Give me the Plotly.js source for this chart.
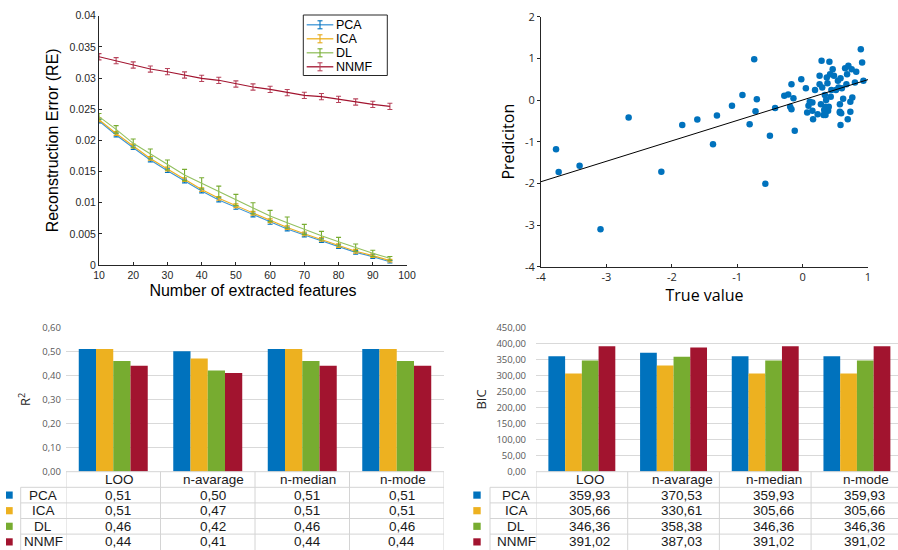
<!DOCTYPE html>
<html>
<head>
<meta charset="utf-8">
<script src="https://cdn.plot.ly/plotly-3.0.1.min.js"></script>
<style>html,body{margin:0;padding:0;background:#fff;}#chart{width:898px;height:550px;}</style>
</head>
<body>
<div id="chart"></div>
<script>
// ---------- Data: reconstruction error ----------
const features = [10,15,20,25,30,35,40,45,50,55,60,65,70,75,80,85,90,95];
const rePCA  = [0.0231,0.02086,0.01882,0.01684,0.01513,0.01348,0.01187,0.01043,0.00925,0.00802,0.00684,0.00578,0.00481,0.0039,0.00294,0.00203,0.00134,0.00053];
const reICA  = [0.0233,0.0211,0.0191,0.0171,0.0154,0.0137,0.0121,0.0107,0.0095,0.0083,0.0071,0.0060,0.0050,0.0041,0.0031,0.0022,0.0015,0.0007];
const reDL   = [0.0238,0.02176,0.01952,0.01781,0.01604,0.01444,0.0131,0.01176,0.01043,0.00909,0.00786,0.00679,0.00572,0.0047,0.00374,0.00278,0.00187,0.00107];
const reNNMF = [0.03342,0.03278,0.03209,0.03144,0.03102,0.03048,0.02995,0.02963,0.02904,0.02856,0.02818,0.02765,0.02722,0.02701,0.02658,0.02615,0.02578,0.02545];
const errPCA  = [0.0003,0.0003,0.0003,0.0003,0.0003,0.0003,0.0003,0.0003,0.0003,0.0003,0.0003,0.0003,0.0003,0.0003,0.0003,0.0003,0.0003,0.0002];
const errICA  = [0.0003,0.0003,0.0003,0.0003,0.0003,0.0003,0.0003,0.0003,0.0003,0.0003,0.0003,0.0003,0.0003,0.0003,0.0003,0.0003,0.0003,0.0002];
const errDL   = [0.0005,0.0006,0.0007,0.0008,0.0008,0.0009,0.0009,0.0009,0.0009,0.0009,0.0009,0.0009,0.0008,0.0007,0.0007,0.0006,0.0005,0.0003];
const errNNMF = [0.0005,0.0005,0.0005,0.0005,0.0005,0.0005,0.0005,0.0005,0.0005,0.0005,0.0005,0.0005,0.0005,0.0005,0.0005,0.0005,0.0005,0.0005];
const reTickVals = [0,0.005,0.01,0.015,0.02,0.025,0.03,0.035,0.04];
const reTickText = ['0','0.005','0.01','0.015','0.02','0.025','0.03','0.035','0.04'];
const featTicks = [10,20,30,40,50,60,70,80,90,100];

// ---------- Data: prediction scatter ----------
const trueVals = [-3.77,-3.73,-3.41,-3.09,-2.66,-2.16,-1.84,-1.61,-1.37,-1.31,-1.08,-0.92,-0.74,-0.70,-0.72,-0.81,-0.57,-0.50,-0.42,-0.28,-0.22,-0.17,-0.14,-0.19,-0.17,-0.12,-0.02,0.05,0.07,0.09,0.15,0.16,0.15,0.19,0.23,0.26,0.26,0.29,0.28,0.30,0.32,0.34,0.35,0.36,0.37,0.38,0.39,0.40,0.41,0.42,0.43,0.44,0.46,0.48,0.51,0.54,0.55,0.57,0.57,0.58,0.59,0.58,0.60,0.62,0.65,0.67,0.68,0.69,0.70,0.73,0.73,0.75,0.76,0.80,0.82,0.89,0.91,0.93,0.11,0.33,0.35,0.57];
const predVals = [-1.18,-1.73,-1.58,-3.10,-0.42,-1.72,-0.60,-0.47,-1.06,-0.37,-0.14,0.12,0.98,0.02,-0.27,-0.58,-2.01,-0.86,-0.19,0.10,0.13,0.38,0.04,-0.16,-0.22,-0.74,0.50,0.28,-0.30,-0.14,-0.06,-0.46,-0.26,0.24,-0.34,0.58,0.38,0.94,-0.10,0.30,-0.36,0.12,-0.16,0.00,0.54,0.40,-0.26,-0.16,0.92,0.62,0.08,0.24,0.74,0.58,0.24,0.46,0.30,-0.10,-0.30,0.52,-0.32,-0.60,0.28,0.03,0.76,0.38,0.62,-0.46,0.82,-0.04,-0.28,0.74,0.06,0.42,0.68,1.22,0.90,0.46,-0.04,-0.24,-0.36,-0.28];
const fitX = [-4, 1];
const fitY = [-1.96, 0.49];
const scTickVals = [-4,-3,-2,-1,0,1,2];
const scTickText = ['-4','-3','-2','-1','0','1','2'];

// ---------- Data: R2 and BIC ----------
const methods = ['PCA','ICA','DL','NNMF'];
const schemes = ['LOO','n-avarage','n-median','n-mode'];
const r2PCA  = [0.51,0.50,0.51,0.51];
const r2ICA  = [0.51,0.47,0.51,0.51];
const r2DL   = [0.46,0.42,0.46,0.46];
const r2NNMF = [0.44,0.41,0.44,0.44];
const bicPCA  = [359.93,370.53,359.93,359.93];
const bicICA  = [305.66,330.61,305.66,305.66];
const bicDL   = [346.36,358.38,346.36,346.36];
const bicNNMF = [391.02,387.03,391.02,391.02];

// ---------- Styling ----------
const W = 898, H = 550;
const px = x => x / W;
const py = y => 1 - y / H;
const C = {PCA:'#0072BD', ICA:'#EDB120', DL:'#77AC30', NNMF:'#A2142F'};
const lineC = {PCA:'#3d95d6', ICA:'#EDB120', DL:'#93c060', NNMF:'#A2142F'};
const errC = {PCA:'#0072BD', ICA:'#e6a817', DL:'#77AC30', NNMF:'#b8455c'};
const FM = 'Liberation Sans, Arial, sans-serif';
const FO = 'Open Sans, Noto Sans, sans-serif';
const fmt = v => v.toFixed(2).replace('.', ',');

const traces = [];
const reSeries = [['PCA',rePCA,errPCA],['ICA',reICA,errICA],['DL',reDL,errDL],['NNMF',reNNMF,errNNMF]];
reSeries.forEach(([n, ys, es]) => {
  traces.push({type:'scatter', mode:'lines', name:n, x:features, y:ys, xaxis:'x', yaxis:'y',
    line:{color:lineC[n], width:1.1},
    error_y:{type:'data', array:es, visible:true, color:errC[n], thickness:1.1, width:2.5},
    showlegend:false, hoverinfo:'skip'});
});

traces.push({type:'scatter', mode:'markers', x:trueVals, y:predVals, xaxis:'x2', yaxis:'y2',
  marker:{color:'#0072BD', size:6.5}, showlegend:false});
traces.push({type:'scatter', mode:'lines', x:fitX, y:fitY, xaxis:'x2', yaxis:'y2',
  line:{color:'#000', width:1}, showlegend:false});

const r2Series = [r2PCA, r2ICA, r2DL, r2NNMF];
const bicSeries = [bicPCA, bicICA, bicDL, bicNNMF];
methods.forEach((m, i) => {
  traces.push({type:'bar', name:m, x:schemes, y:r2Series[i], xaxis:'x3', yaxis:'y3',
    marker:{color:C[m], line:{width:0}}, showlegend:false});
});
methods.forEach((m, i) => {
  traces.push({type:'bar', name:m, x:schemes, y:bicSeries[i], xaxis:'x4', yaxis:'y4',
    marker:{color:C[m], line:{width:0}}, showlegend:false});
});

// ---------- Data tables under bar charts ----------
const shapes = [];
const annotations = [];
const gridC = '#d4d4d4';
const rowH = 15.6, tableTop = 471.7;
const tblFont = {family:FM, size:13.5, color:'#1a1a1a'};
function buildTable(cfg, series) {
  shapes.push({type:'line', xref:'paper', yref:'paper', x0:px(cfg.plotLeft), x1:px(cfg.plotRight), y0:py(tableTop), y1:py(tableTop), line:{color:gridC, width:1}});
  for (let r = 1; r <= methods.length; r++) {
    const y = tableTop + r * rowH;
    shapes.push({type:'line', xref:'paper', yref:'paper', x0:px(cfg.labelLeft), x1:px(cfg.plotRight), y0:py(y), y1:py(y), line:{color:gridC, width:1}});
  }
  shapes.push({type:'line', xref:'paper', yref:'paper', x0:px(cfg.labelLeft), x1:px(cfg.labelLeft), y0:py(tableTop + rowH), y1:0, line:{color:gridC, width:1}});
  for (let j = 0; j <= schemes.length; j++) {
    shapes.push({type:'line', xref:cfg.xref, yref:'paper', x0:j - 0.5, x1:j - 0.5, y0:py(tableTop), y1:0, line:{color:gridC, width:1}});
  }
  schemes.forEach((s, j) => {
    annotations.push({xref:cfg.xref, yref:'paper', x:j, y:py(tableTop + rowH / 2), text:s, showarrow:false,
      xanchor:'center', yanchor:'middle', borderpad:0, xshift:cfg.hShift, font:tblFont});
  });
  methods.forEach((m, i) => {
    const yc = tableTop + (i + 1.5) * rowH;
    shapes.push({type:'rect', xref:'paper', yref:'paper', x0:px(cfg.sq[0]), x1:px(cfg.sq[1]), y0:py(yc + 3.6), y1:py(yc - 3.6), fillcolor:C[m], line:{width:0}});
    annotations.push({xref:'paper', yref:'paper', x:px((cfg.labelLeft + cfg.plotLeft) / 2), y:py(yc), text:m, showarrow:false,
      xanchor:'center', yanchor:'middle', borderpad:0, xshift:cfg.lShift, font:tblFont});
    series[i].forEach((v, j) => {
      annotations.push({xref:cfg.xref, yref:'paper', x:j, y:py(yc), text:fmt(v), showarrow:false,
        xanchor:'center', yanchor:'middle', borderpad:0, xshift:cfg.vShift, font:tblFont});
    });
  });
}
buildTable({labelLeft:20.7, plotLeft:66, plotRight:444, sq:[6,12.7], xref:'x3', hShift:6, vShift:5, lShift:0}, r2Series);
buildTable({labelLeft:490, plotLeft:536, plotRight:898, sq:[473.3,480.7], xref:'x4', hShift:9, vShift:8, lShift:3}, bicSeries);

// ---------- Manual legend for the error-bar chart ----------
const lg = {left:303.3, right:387.3, top:15, bottom:75.5, y0:24.8, step:14, lx0:306.7, lx1:333.3, gx:320, tx:335};
shapes.push({type:'rect', xref:'paper', yref:'paper', x0:px(lg.left), x1:px(lg.right), y0:py(lg.bottom), y1:py(lg.top), line:{color:'#262626', width:1}, fillcolor:'rgba(255,255,255,0)'});
methods.forEach((m, i) => {
  const y = lg.y0 + i * lg.step;
  shapes.push({type:'line', xref:'paper', yref:'paper', x0:px(lg.lx0), x1:px(lg.lx1), y0:py(y), y1:py(y), line:{color:lineC[m], width:1.3}});
  shapes.push({type:'line', xref:'paper', yref:'paper', x0:px(lg.gx), x1:px(lg.gx), y0:py(y - 4), y1:py(y + 4), line:{color:errC[m], width:1.1}});
  shapes.push({type:'line', xref:'paper', yref:'paper', x0:px(lg.gx - 2.5), x1:px(lg.gx + 2.5), y0:py(y - 4), y1:py(y - 4), line:{color:errC[m], width:1.1}});
  shapes.push({type:'line', xref:'paper', yref:'paper', x0:px(lg.gx - 2.5), x1:px(lg.gx + 2.5), y0:py(y + 4), y1:py(y + 4), line:{color:errC[m], width:1.1}});
  annotations.push({xref:'paper', yref:'paper', x:px(lg.tx), y:py(y), text:m, showarrow:false, xanchor:'left', yanchor:'middle',
    borderpad:0, font:{family:FM, size:12.5, color:'#000'}});
});

const tickFontM = {family:FM, size:10.5, color:'#262626'};
const tickFontO = {family:FO, size:11, color:'#262626'};
const tickFontX = {family:FO, size:9.5, color:'#595959'};

const layout = {
  width: W, height: H, autosize:false,
  margin:{l:0, r:0, t:0, b:0},
  paper_bgcolor:'#fff', plot_bgcolor:'rgba(0,0,0,0)',
  separators: ',.',
  showlegend:false,
  barmode:'group', bargap:0.27, bargroupgap:0,
  xaxis:{domain:[px(99), px(407)], anchor:'y', range:[10,100], tickvals:featTicks,
    showline:true, linecolor:'#262626', linewidth:1, ticks:'inside', ticklen:3, tickcolor:'#262626',
    showgrid:false, zeroline:false, tickfont:tickFontM, automargin:false,
    title:{text:'Number of extracted features', font:{family:FM, size:16, color:'#000'}, standoff:5}},
  yaxis:{domain:[py(265), py(15.7)], anchor:'x', range:[0,0.04], tickvals:reTickVals, ticktext:reTickText,
    showline:true, linecolor:'#262626', linewidth:1, ticks:'inside', ticklen:3, tickcolor:'#262626',
    showgrid:false, zeroline:false, tickfont:tickFontM, automargin:false,
    title:{text:'Reconstruction Error (RE)', font:{family:FM, size:16, color:'#000'}, standoff:7}},
  xaxis2:{domain:[px(541), px(868)], anchor:'y2', range:[-4,1], tickvals:scTickVals, ticktext:scTickText,
    showline:true, linecolor:'#262626', linewidth:1, ticks:'inside', ticklen:3, tickcolor:'#262626',
    showgrid:false, zeroline:false, tickfont:tickFontO, automargin:false,
    title:{text:'True value', font:{family:FO, size:16, color:'#000'}, standoff:0}},
  yaxis2:{domain:[py(266.7), py(16.7)], anchor:'x2', range:[-4,2], tickvals:scTickVals, ticktext:scTickText,
    showline:true, linecolor:'#262626', linewidth:1, ticks:'outside', ticklen:3, tickcolor:'#262626',
    showgrid:false, zeroline:false, tickfont:tickFontO, automargin:false,
    title:{text:'Prediciton', font:{family:FO, size:16, color:'#000'}, standoff:6}},
  xaxis3:{domain:[px(66), px(444)], anchor:'y3', type:'category', range:[-0.5,3.5],
    showticklabels:false, showline:false, showgrid:false, zeroline:false, ticks:'', automargin:false},
  yaxis3:{domain:[py(471.7), py(327.3)], anchor:'x3', range:[0,0.6], dtick:0.1, tick0:0, tickformat:'.2f',
    showline:false, showgrid:true, gridcolor:'#d9d9d9', gridwidth:1.2, zeroline:false, ticks:'',
    tickfont:tickFontX, ticklabelstandoff:4, automargin:false,
    title:{text:'R<sup>2</sup>', font:{family:FO, size:13, color:'#262626'}, standoff:8}},
  xaxis4:{domain:[px(536), 1], anchor:'y4', type:'category', range:[-0.5,3.448],
    showticklabels:false, showline:false, showgrid:false, zeroline:false, ticks:'', automargin:false},
  yaxis4:{domain:[py(471.7), py(327.3)], anchor:'x4', range:[0,450], dtick:50, tick0:0, tickformat:'.2f',
    showline:false, showgrid:true, gridcolor:'#d9d9d9', gridwidth:1.2, zeroline:false, ticks:'',
    tickfont:tickFontX, ticklabelstandoff:9, automargin:false,
    title:{text:'BIC', font:{family:FO, size:13, color:'#262626'}, standoff:6}},
  shapes: shapes,
  annotations: annotations
};

Plotly.newPlot('chart', traces, layout, {staticPlot:true, displayModeBar:false});
</script>
</body>
</html>
